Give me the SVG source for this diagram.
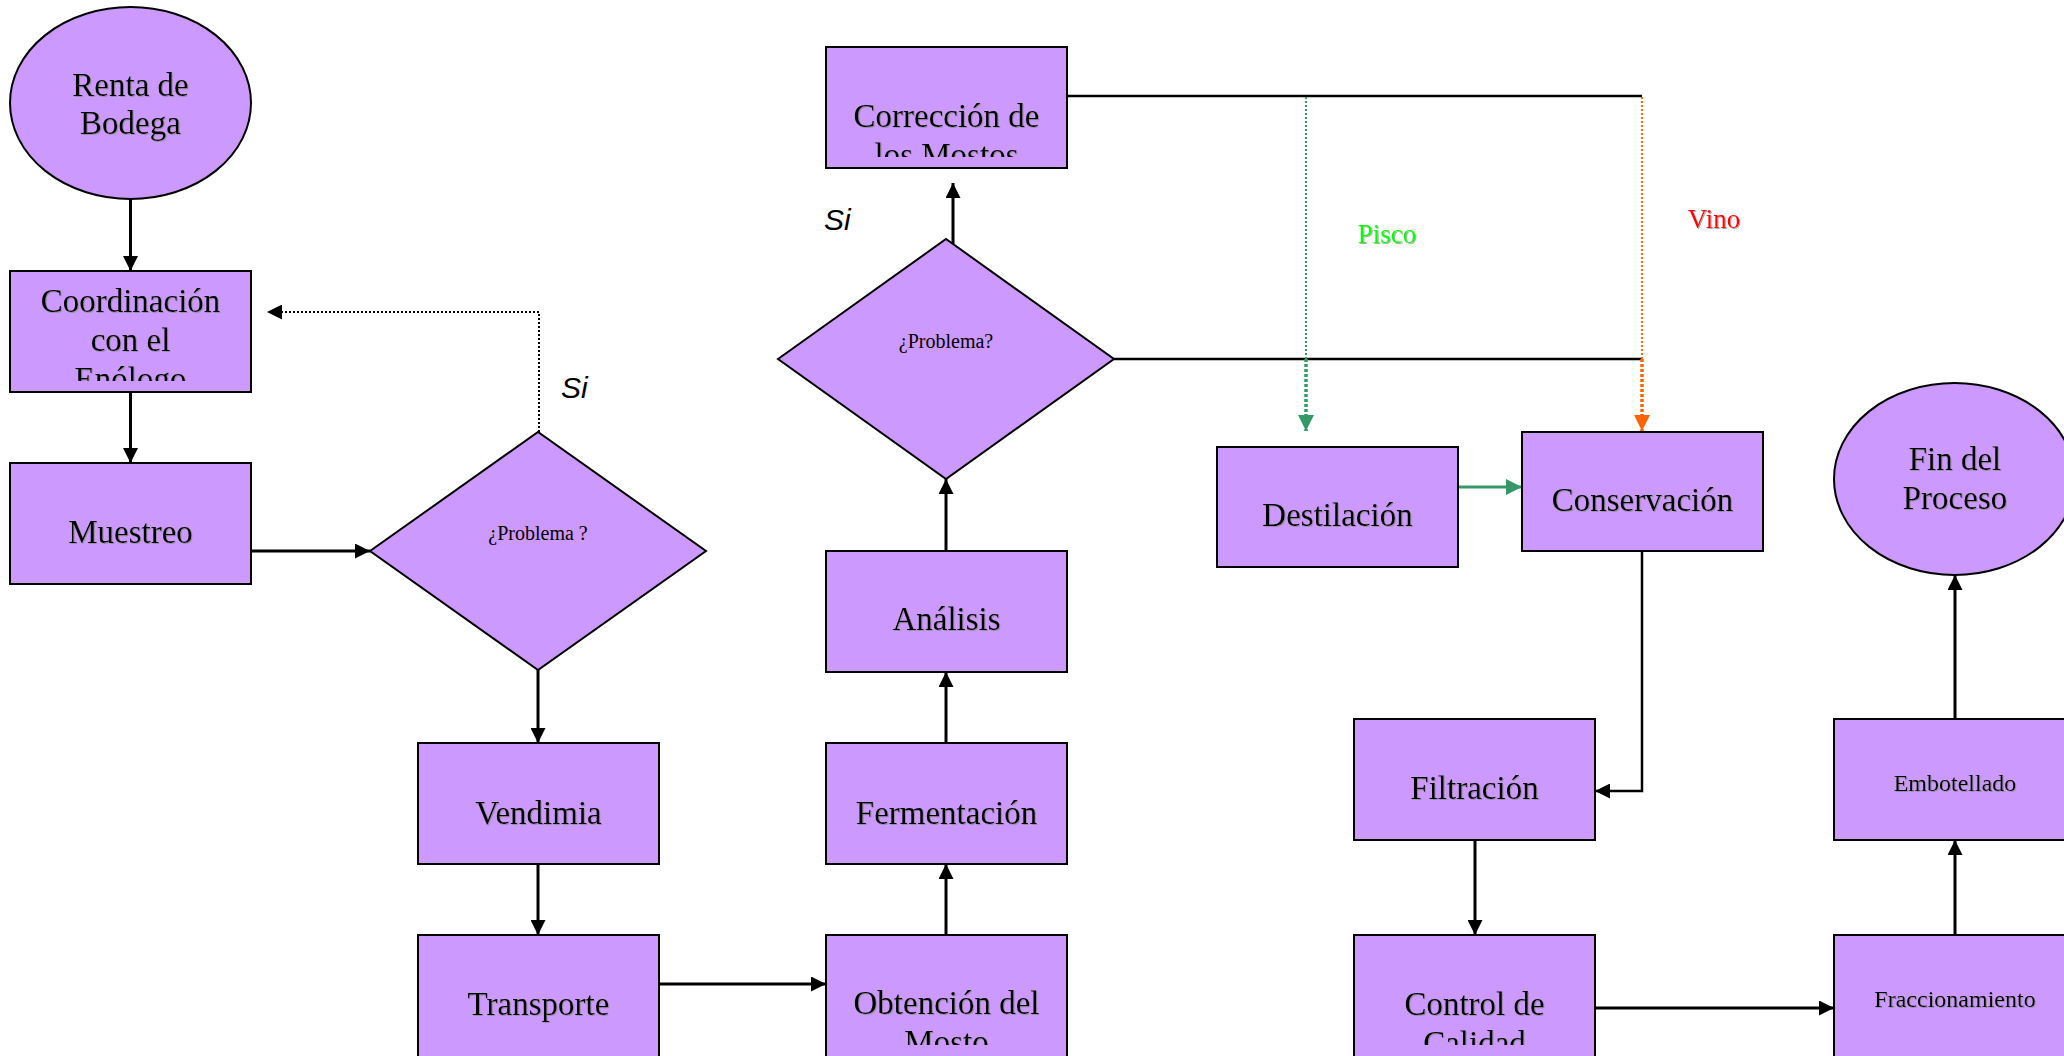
<svg xmlns="http://www.w3.org/2000/svg" width="2064" height="1056" viewBox="0 0 2064 1056">
<style>
.box{fill:#cc99ff;stroke:#000;stroke-width:2}
.t{font-family:"Liberation Serif","Times New Roman",serif;font-size:33px;fill:#000;text-anchor:middle;filter:url(#sh)}
.ts{font-family:"Liberation Serif","Times New Roman",serif;font-size:24px;fill:#000;text-anchor:middle;filter:url(#sh)}
.tq{font-family:"Liberation Serif","Times New Roman",serif;font-size:20px;fill:#000;text-anchor:middle}
.si{font-family:"Liberation Sans",Arial,sans-serif;font-size:30px;font-style:italic;fill:#000}
.lbl{font-family:"Liberation Serif","Times New Roman",serif;font-size:27px;filter:url(#sh)}
.c{fill:none;stroke:#000;stroke-width:3}
.cl{fill:none;stroke:#000;stroke-width:2.5}
.dot{fill:none;stroke:#000;stroke-width:2;stroke-dasharray:2 2}
</style>
<defs>
<filter id="sh" x="-5%" y="-20%" width="110%" height="140%">
<feDropShadow dx="1" dy="1" stdDeviation="0.4" flood-color="#888" flood-opacity="0.7"/>
</filter>
<marker id="ab" markerUnits="userSpaceOnUse" markerWidth="16" markerHeight="15" refX="15" refY="7.5" orient="auto"><path d="M0,0 L15,7.5 L0,15 z" fill="#000"/></marker>
<marker id="ag" markerUnits="userSpaceOnUse" markerWidth="17" markerHeight="16" refX="16" refY="8" orient="auto"><path d="M0,0 L16,8 L0,16 z" fill="#339966"/></marker>
<marker id="ao" markerUnits="userSpaceOnUse" markerWidth="17" markerHeight="16" refX="16" refY="8" orient="auto"><path d="M0,0 L16,8 L0,16 z" fill="#ff6600"/></marker>
<clipPath id="cCoord"><rect x="10" y="271" width="241" height="110"/></clipPath>
<clipPath id="cCorr"><rect x="826" y="47" width="241" height="110"/></clipPath>
<clipPath id="cObt"><rect x="826" y="935" width="241" height="110"/></clipPath>
<clipPath id="cCtrl"><rect x="1354" y="935" width="241" height="110"/></clipPath>
</defs>

<g id="connectors">
<line class="c" x1="130.5" y1="199" x2="130.5" y2="271" marker-end="url(#ab)"/>
<line class="c" x1="130.5" y1="392" x2="130.5" y2="463" marker-end="url(#ab)"/>
<line class="c" x1="251" y1="551" x2="370" y2="551" marker-end="url(#ab)"/>
<polyline class="dot" points="539,432 539,312 267,312" marker-end="url(#ab)"/>
<line class="c" x1="538" y1="670" x2="538" y2="743" marker-end="url(#ab)"/>
<line class="c" x1="538" y1="864" x2="538" y2="935" marker-end="url(#ab)"/>
<line class="c" x1="659" y1="984" x2="826" y2="984" marker-end="url(#ab)"/>
<line class="c" x1="946" y1="935" x2="946" y2="864" marker-end="url(#ab)"/>
<line class="c" x1="946" y1="743" x2="946" y2="672" marker-end="url(#ab)"/>
<line class="c" x1="946" y1="551" x2="946" y2="479" marker-end="url(#ab)"/>
<line class="c" x1="953" y1="244" x2="953" y2="183" marker-end="url(#ab)"/>
<line class="cl" x1="1067" y1="96" x2="1642" y2="96"/>
<line class="cl" x1="1114" y1="359" x2="1642" y2="359"/>
<line fill="none" stroke="#339966" stroke-width="2" stroke-dasharray="2 2" x1="1306" y1="97" x2="1306" y2="359"/>
<line fill="none" stroke="#339966" stroke-width="3.5" stroke-dasharray="3 2" x1="1306" y1="359" x2="1306" y2="431" marker-end="url(#ag)"/>
<line fill="none" stroke="#ff6600" stroke-width="2" stroke-dasharray="2 2" x1="1642" y1="97" x2="1642" y2="359"/>
<line fill="none" stroke="#ff6600" stroke-width="3.5" stroke-dasharray="3 2" x1="1642" y1="359" x2="1642" y2="431" marker-end="url(#ao)"/>
<line fill="none" stroke="#339966" stroke-width="3" x1="1450" y1="487" x2="1522" y2="487" marker-end="url(#ag)"/>
<polyline class="cl" points="1642,551 1642,791 1595,791" marker-end="url(#ab)"/>
<line class="c" x1="1475" y1="840" x2="1475" y2="935" marker-end="url(#ab)"/>
<line class="c" x1="1595" y1="1008" x2="1834" y2="1008" marker-end="url(#ab)"/>
<line class="c" x1="1955" y1="935" x2="1955" y2="840" marker-end="url(#ab)"/>
<line class="c" x1="1955" y1="719" x2="1955" y2="575" marker-end="url(#ab)"/>
</g>

<g id="renta">
<ellipse class="box" cx="130.5" cy="103" rx="120.5" ry="96"/>
<text class="t" x="130.5" y="96">Renta de</text>
<text class="t" x="130.5" y="134">Bodega</text>
</g>
<g id="coordinacion">
<rect class="box" x="10" y="271" width="241" height="121"/>
<g clip-path="url(#cCoord)">
<text class="t" x="130.5" y="312">Coordinación</text>
<text class="t" x="130.5" y="351">con el</text>
<text class="t" x="130.5" y="390">Enólogo</text>
</g>
</g>
<g id="muestreo">
<rect class="box" x="10" y="463" width="241" height="121"/>
<text class="t" x="130.5" y="543">Muestreo</text>
</g>
<g id="problema1">
<polygon class="box" points="370,551 538,432 706,551 538,670"/>
<text class="tq" x="538" y="540">¿Problema ?</text>
</g>
<g id="si1"><text class="si" x="561" y="398">Si</text></g>
<g id="vendimia">
<rect class="box" x="418" y="743" width="241" height="121"/>
<text class="t" x="538.5" y="824">Vendimia</text>
</g>
<g id="transporte">
<rect class="box" x="418" y="935" width="241" height="124"/>
<text class="t" x="538.5" y="1015">Transporte</text>
</g>
<g id="obtencion">
<rect class="box" x="826" y="935" width="241" height="124"/>
<g clip-path="url(#cObt)">
<text class="t" x="946.5" y="1014">Obtención del</text>
<text class="t" x="946.5" y="1053">Mosto</text>
</g>
</g>
<g id="fermentacion">
<rect class="box" x="826" y="743" width="241" height="121"/>
<text class="t" x="946.5" y="824">Fermentación</text>
</g>
<g id="analisis">
<rect class="box" x="826" y="551" width="241" height="121"/>
<text class="t" x="946.5" y="630">Análisis</text>
</g>
<g id="problema2">
<polygon class="box" points="778,359 946,239 1114,359 946,479"/>
<text class="tq" x="946" y="348">¿Problema?</text>
</g>
<g id="si2"><text class="si" x="824" y="230">Si</text></g>
<g id="correccion">
<rect class="box" x="826" y="47" width="241" height="121"/>
<g clip-path="url(#cCorr)">
<text class="t" x="946.5" y="127">Corrección de</text>
<text class="t" x="946.5" y="166">los Mostos</text>
</g>
</g>
<g id="pisco"><text class="lbl" x="1387" y="243" text-anchor="middle" fill="#00ff00">Pisco</text></g>
<g id="vino"><text class="lbl" x="1714" y="228" text-anchor="middle" fill="#ff0000">Vino</text></g>
<g id="destilacion">
<rect class="box" x="1217" y="447" width="241" height="120"/>
<text class="t" x="1337.5" y="526">Destilación</text>
</g>
<g id="conservacion">
<rect class="box" x="1522" y="432" width="241" height="119"/>
<text class="t" x="1642.5" y="511">Conservación</text>
</g>
<g id="fin">
<ellipse class="box" cx="1954.5" cy="479" rx="120.5" ry="96"/>
<text class="t" x="1955" y="470">Fin del</text>
<text class="t" x="1955" y="509">Proceso</text>
</g>
<g id="filtracion">
<rect class="box" x="1354" y="719" width="241" height="121"/>
<text class="t" x="1474.5" y="799">Filtración</text>
</g>
<g id="control">
<rect class="box" x="1354" y="935" width="241" height="124"/>
<g clip-path="url(#cCtrl)">
<text class="t" x="1474.5" y="1015">Control de</text>
<text class="t" x="1474.5" y="1054">Calidad</text>
</g>
</g>
<g id="fraccionamiento">
<rect class="box" x="1834" y="935" width="241" height="124"/>
<text class="ts" x="1955" y="1007">Fraccionamiento</text>
</g>
<g id="embotellado">
<rect class="box" x="1834" y="719" width="241" height="121"/>
<text class="ts" x="1955" y="791">Embotellado</text>
</g>
</svg>
